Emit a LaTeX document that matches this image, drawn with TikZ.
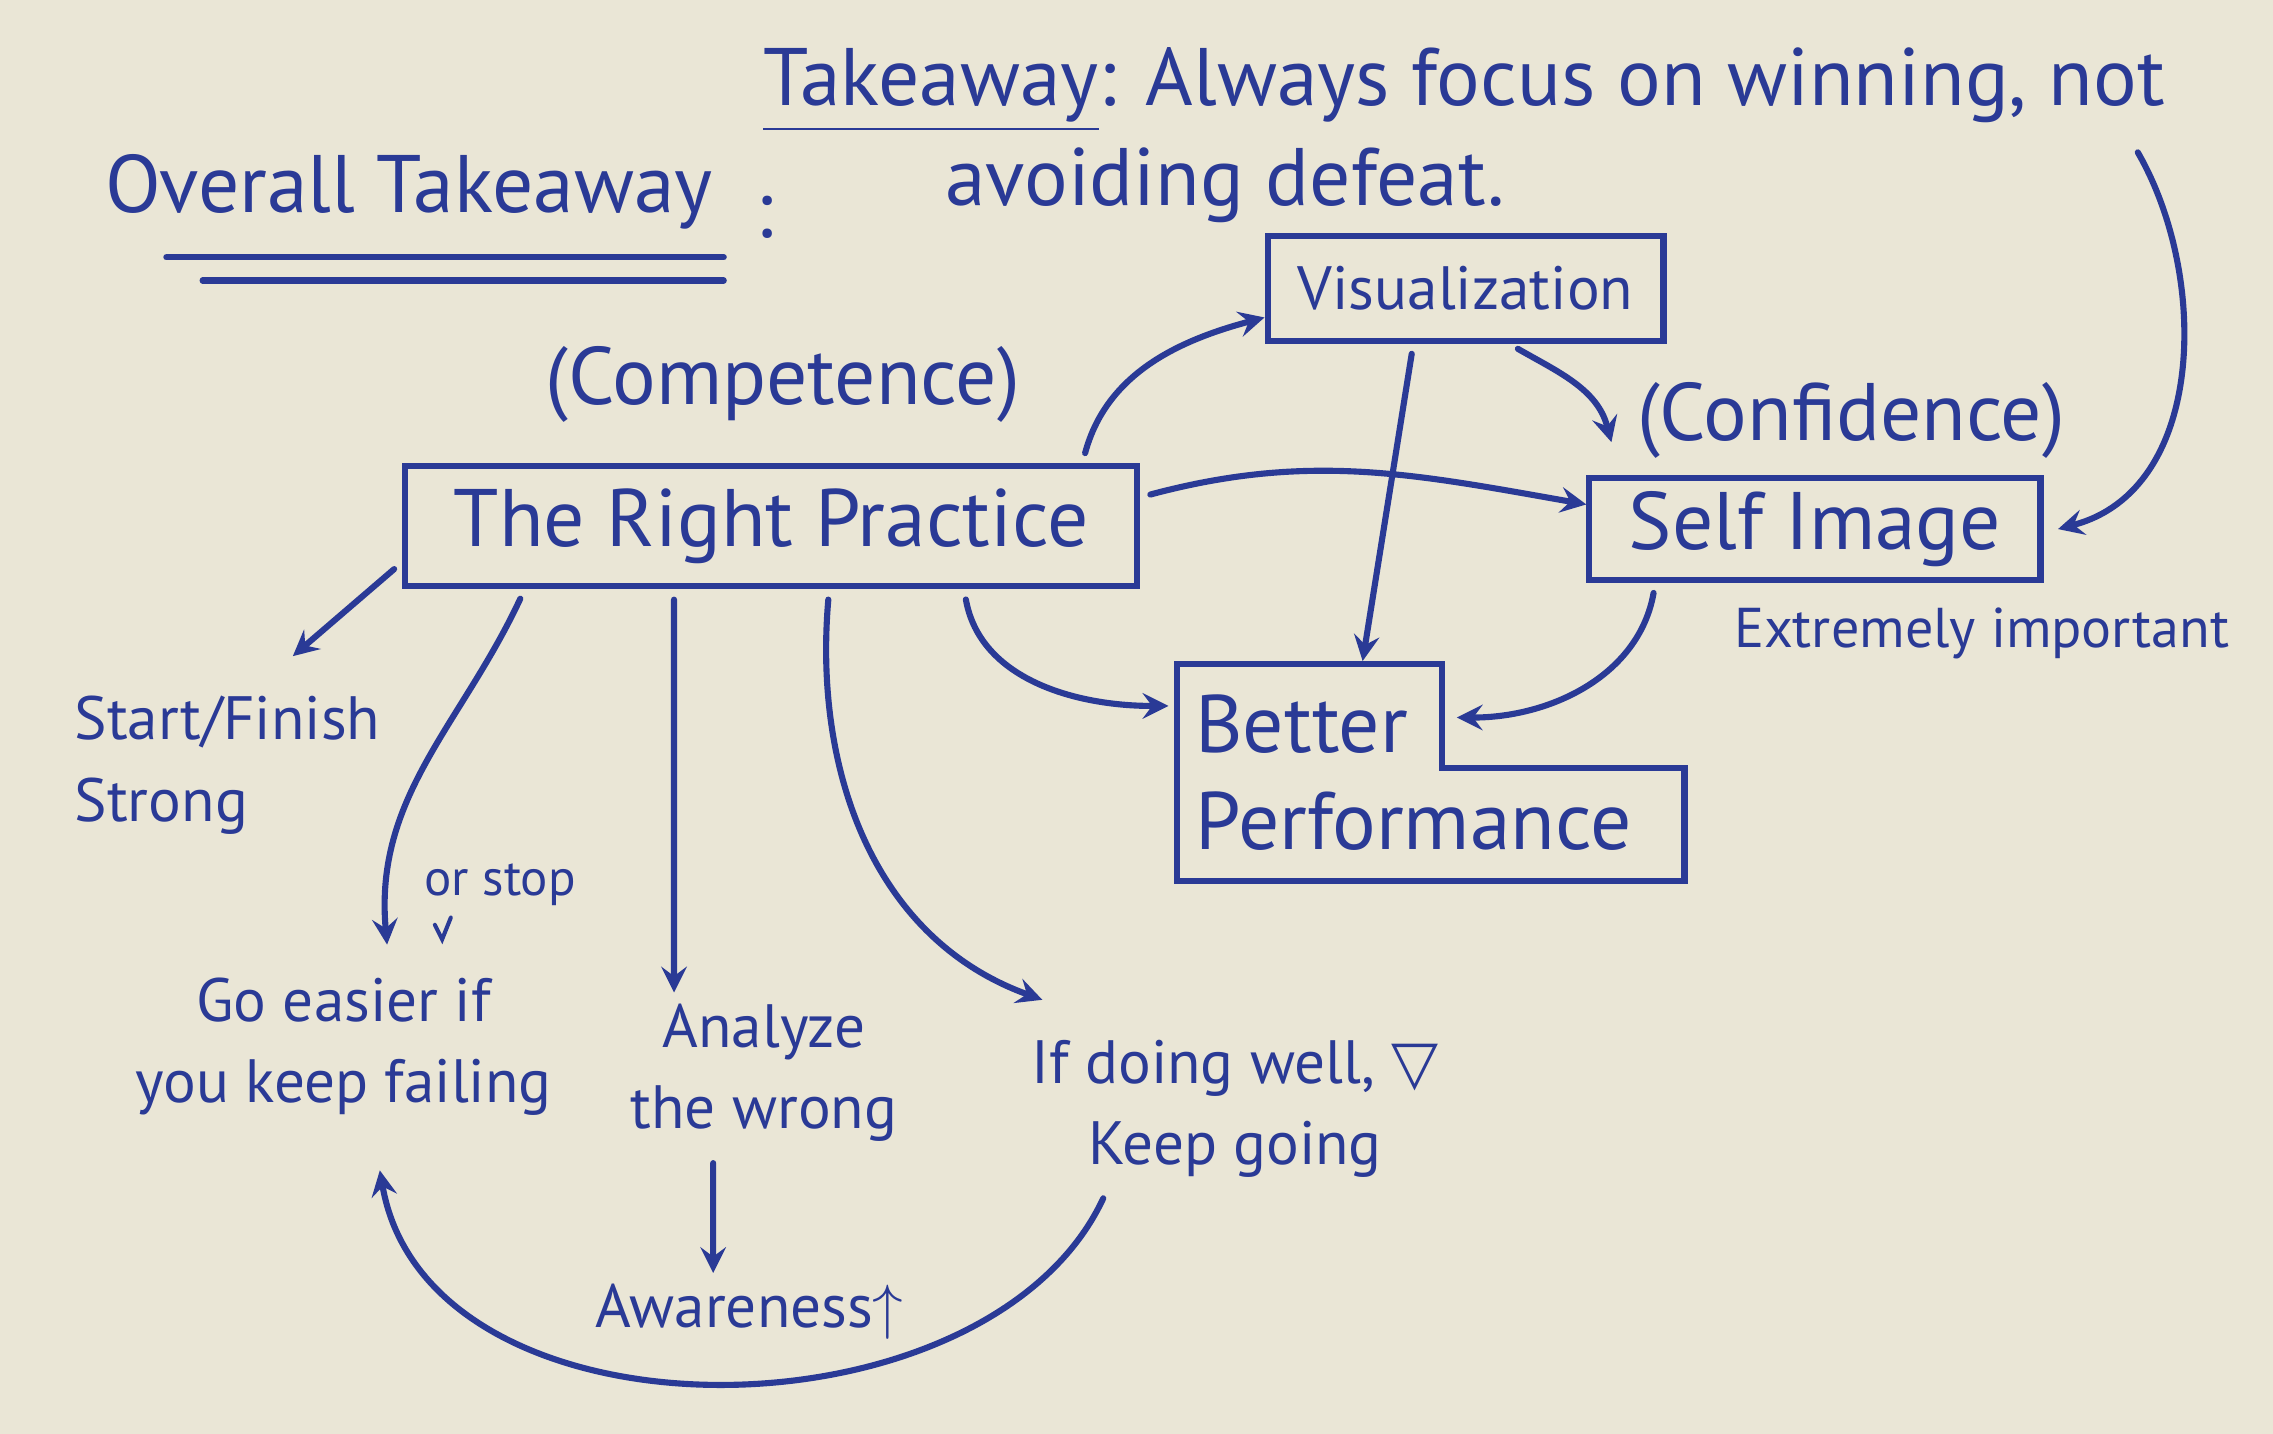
\documentclass[tikz,border=0pt]{standalone}
\usepackage{fontspec}
\setmainfont{PT Sans}
\newfontfamily\symfont{DejaVu Sans}
\definecolor{paper}{RGB}{234,230,214}
\definecolor{inkblue}{RGB}{42,58,150}
\tikzset{
  ink/.style={draw=inkblue, line width=1.2pt, line cap=round},
  note/.style={text=inkblue, inner sep=2pt},
  big/.style={note, font=\fontsize{16}{19}\selectfont},
  mid/.style={note, font=\fontsize{12}{16}\selectfont, align=center},
  small/.style={note, font=\fontsize{11}{13}\selectfont},
  box/.style={draw=inkblue, line width=1.2pt},
  link/.style={->, draw=inkblue, line width=1.2pt, line cap=round, shorten <=2pt},
}
\begin{document}
\begin{tikzpicture}[x=0.01cm,y=-0.01cm,>=stealth]
		\fill[paper] (0,0) rectangle (1568,989);
		\useasboundingbox (0,0) rectangle (1568,989);
		% headings
		\node[big] (overall) at (282,132) {Overall Takeaway};
		\node[big] (colon) at (527,150) {:};
		\draw[ink] ([xshift=0.5cm,yshift=-0.12cm]overall.south west) -- ([yshift=-0.12cm]overall.south east);
		\draw[ink] ([xshift=0.75cm,yshift=-0.28cm]overall.south west) -- ([yshift=-0.28cm]overall.south east);
		\node[big] (take) at (1010,62) {\underline{Takeaway}: Always focus on winning, not};
		\node[big] (take2) at (845,128) {avoiding defeat.};
		% boxes
		\node[big] (comp) at (540,265) {(Competence)};
		\node[big,box,minimum width=5.05cm,minimum height=0.83cm] (rp) at (532,363) {The Right Practice};
		\node[note,font=\fontsize{12}{14}\selectfont,box,minimum width=2.73cm,minimum height=0.72cm] (vis) at (1011,199) {Visualization};
		\node[big] (conf) at (1277,290) {(Confidence)};
		\node[big,box,minimum width=3.11cm,minimum height=0.70cm] (self) at (1252,365) {Self Image};
		\node[small] (ext) at (1367,437) {Extremely important};
		\node[big,align=left] (perf) at (975,533) {Better\\Performance};
		\draw[ink] (812,458) -- (995,458) -- (995,530) -- (1162,530) -- (1162,608) -- (812,608) -- cycle;
		\coordinate (perfL) at (806,487);
		\coordinate (perfT) at (940,456);
		\coordinate (perfR) at (1005,495);
		% notes below
		\node[mid,align=left] (start) at (157,528) {Start/Finish\\Strong};
		\node[note,font=\fontsize{10}{12}\selectfont] (orstop) at (345,610) {or stop};
		\draw[ink,line width=0.8pt] (300,638) -- (305,648) -- (311,633);
		\node[mid] (easier) at (237,722) {Go easier if\\you keep failing};
		\node[mid] (analyze) at (527,740) {Analyze\\the wrong};
		\node[mid] (aware) at (517,905) {Awareness$\uparrow$};
		\node[mid] (well) at (852,765) {If doing well, {\symfont ▽}\\Keep going};
		% arrows
		\draw[link] ([yshift=-0.25cm]rp.west) -- ([xshift=0.45cm,yshift=0.2cm]start.north);
		\draw[link] ([xshift=-1.7cm]rp.south) to[out=-115,in=95] ([xshift=0.3cm,yshift=0.15cm]easier.north);
		\draw[link] ([xshift=-0.67cm]rp.south) -- ([xshift=-0.62cm]analyze.north);
		\draw[link] ([xshift=0.4cm]rp.south) to[out=-95,in=160] ([xshift=0.15cm,yshift=0.2cm]well.north west);
		\draw[link] ([xshift=1.33cm]rp.south) to[out=-80,in=180] (perfL);
		\draw[link] ([xshift=-0.4cm]rp.north east) to[out=75,in=195] ([yshift=-0.2cm]vis.west);
		\draw[link] ([yshift=0.2cm]rp.east) to[out=15,in=170] ([yshift=0.17cm]self.west);
		\draw[link] ([xshift=-0.36cm]vis.south) -- (perfT);
		\draw[link] ([xshift=0.3cm]vis.south) to[out=-30,in=105] ([xshift=-0.1cm,yshift=-0.15cm]conf.west);
		\draw[link] ([xshift=-1.1cm]self.south) to[out=-100,in=0] (perfR);
		\draw[link] ([xshift=-0.3cm]take.south east) to[out=-60,in=15] ([xshift=0.1cm]self.east);
		\draw[link] ([xshift=-0.35cm]analyze.south) -- ([xshift=-0.25cm]aware.north);
		\draw[link] ([xshift=0.6cm]well.south west) to[out=-115,in=-80] ([xshift=0.25cm,yshift=-0.3cm]easier.south);
\end{tikzpicture}
\end{document}
